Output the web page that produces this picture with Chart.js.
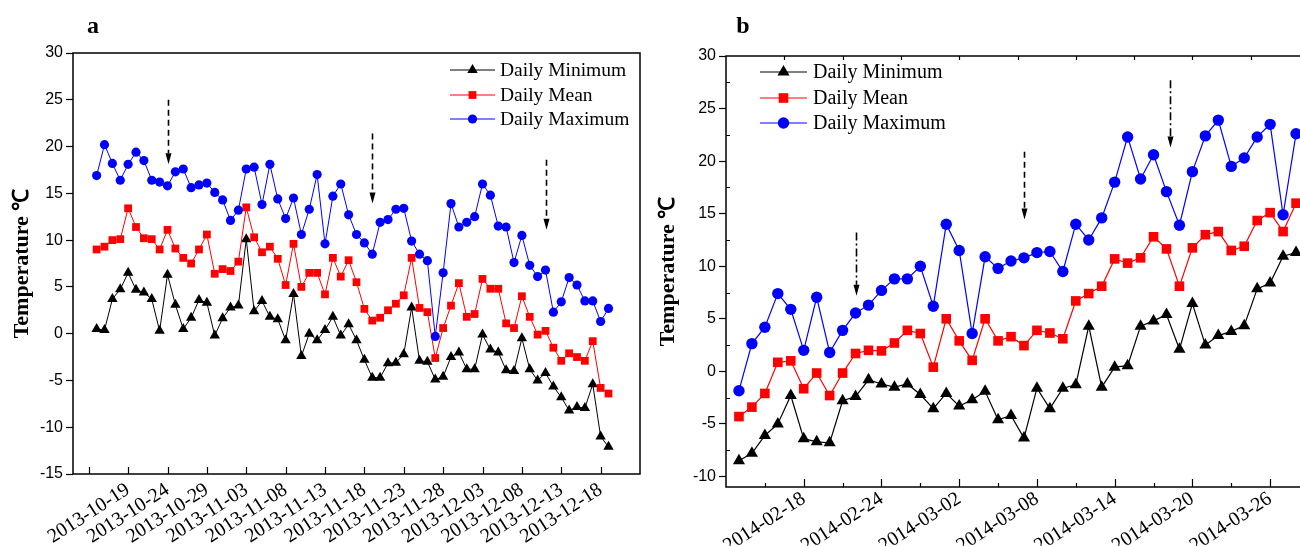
<!DOCTYPE html>
<html><head><meta charset="utf-8">
<script src="https://cdn.jsdelivr.net/npm/chart.js@4.4.1/dist/chart.umd.min.js"></script>
<style>
html,body{margin:0;padding:0;background:#fff;overflow:hidden;width:1300px;height:546px;}
#wrap{position:relative;width:1300px;height:546px;overflow:hidden;}
canvas{position:absolute;top:0;}
#ca{left:0;}
#cb{left:650px;}
</style></head><body>
<div id="wrap"><canvas id="ca" width="660" height="546"></canvas><canvas id="cb" width="680" height="546"></canvas></div>
<script>
// ---------------- Panel a data ----------------
const datesA = ["2013-10-15","2013-10-16","2013-10-17","2013-10-18","2013-10-19","2013-10-20","2013-10-21","2013-10-22","2013-10-23","2013-10-24","2013-10-25","2013-10-26","2013-10-27","2013-10-28","2013-10-29","2013-10-30","2013-10-31",
"2013-11-01","2013-11-02","2013-11-03","2013-11-04","2013-11-05","2013-11-06","2013-11-07","2013-11-08","2013-11-09","2013-11-10","2013-11-11","2013-11-12","2013-11-13","2013-11-14","2013-11-15","2013-11-16","2013-11-17","2013-11-18","2013-11-19","2013-11-20","2013-11-21","2013-11-22","2013-11-23","2013-11-24","2013-11-25","2013-11-26","2013-11-27","2013-11-28","2013-11-29","2013-11-30",
"2013-12-01","2013-12-02","2013-12-03","2013-12-04","2013-12-05","2013-12-06","2013-12-07","2013-12-08","2013-12-09","2013-12-10","2013-12-11","2013-12-12","2013-12-13","2013-12-14","2013-12-15","2013-12-16","2013-12-17","2013-12-18","2013-12-19"];
const minA = [0.5,0.4,3.7,4.75,6.5,4.7,4.4,3.7,0.3,6.3,3.1,0.5,1.7,3.6,3.3,-0.2,1.65,2.8,3.0,10.1,2.4,3.5,1.8,1.55,-0.7,4.25,-2.4,0.0,-0.7,0.4,1.8,-0.2,1.0,-0.7,-2.8,-4.7,-4.7,-3.15,-3.1,-2.2,2.8,-2.9,-3.0,-4.9,-4.6,-2.5,-2.0,-3.8,-3.8,-0.1,-1.7,-2.0,-3.9,-4.0,-0.5,-3.8,-5.0,-4.2,-5.65,-6.8,-8.2,-7.85,-7.95,-5.4,-11.0,-12.1];
const meanA = [9.0,9.3,10.0,10.1,13.4,11.4,10.2,10.1,9.0,11.1,9.1,8.1,7.5,9.0,10.6,6.4,6.9,6.7,7.7,13.5,10.3,8.7,9.3,8.0,5.2,9.6,5.0,6.5,6.5,4.2,8.1,6.1,7.85,5.5,2.65,1.4,1.7,2.5,3.2,4.1,8.1,2.75,2.3,-2.6,0.6,3.0,5.4,1.8,2.1,5.85,4.8,4.8,1.1,0.6,4.0,1.8,-0.1,0.3,-1.5,-2.9,-2.1,-2.5,-2.9,-0.8,-5.8,-6.4];
const maxA = [16.9,20.2,18.2,16.4,18.1,19.4,18.5,16.4,16.2,15.8,17.3,17.6,15.6,15.9,16.1,15.1,14.3,12.1,13.2,17.6,17.8,13.8,18.1,14.4,12.3,14.5,10.6,13.3,17.0,9.6,14.7,16.0,12.7,10.6,9.7,8.5,11.9,12.2,13.3,13.4,9.9,8.5,7.8,-0.3,6.5,13.9,11.4,11.9,12.5,16.0,14.8,11.5,11.4,7.6,10.5,7.3,6.1,6.8,2.3,3.4,6.0,5.2,3.5,3.5,1.3,2.7];
const tickLabelsA = ["2013-10-19","2013-10-24","2013-10-29","2013-11-03","2013-11-08","2013-11-13","2013-11-18","2013-11-23","2013-11-28","2013-12-03","2013-12-08","2013-12-13","2013-12-18"];
const unlabeledTicksA = ["2013-10-14"];
const xRangeA = ["2013-10-12","2013-12-23"];
const yTicksA = [-15,-10,-5,0,5,10,15,20,25,30];
const arrowsA = [
  {date:"2013-10-24", top:25.0, tip:18.1, style:"dash"},
  {date:"2013-11-19", top:21.4, tip:13.9, style:"dash"},
  {date:"2013-12-11", top:18.6, tip:11.1, style:"dash"}
];

// ---------------- Panel b data ----------------
const datesB = ["2014-02-13","2014-02-14","2014-02-15","2014-02-16","2014-02-17","2014-02-18","2014-02-19","2014-02-20","2014-02-21","2014-02-22","2014-02-23","2014-02-24","2014-02-25","2014-02-26","2014-02-27","2014-02-28",
"2014-03-01","2014-03-02","2014-03-03","2014-03-04","2014-03-05","2014-03-06","2014-03-07","2014-03-08","2014-03-09","2014-03-10","2014-03-11","2014-03-12","2014-03-13","2014-03-14","2014-03-15","2014-03-16","2014-03-17","2014-03-18","2014-03-19","2014-03-20","2014-03-21","2014-03-22","2014-03-23","2014-03-24","2014-03-25","2014-03-26","2014-03-27","2014-03-28"];
const minB = [-8.5,-7.8,-6.1,-5.0,-2.3,-6.4,-6.7,-6.8,-2.8,-2.4,-0.8,-1.2,-1.5,-1.2,-2.2,-3.55,-2.1,-3.3,-2.7,-1.9,-4.6,-4.2,-6.35,-1.6,-3.55,-1.6,-1.27,4.3,-1.5,0.4,0.54,4.3,4.8,5.4,2.1,6.45,2.5,3.4,3.8,4.35,7.85,8.4,10.95,11.3];
const meanB = [-4.3,-3.4,-2.1,0.86,1.0,-1.65,-0.16,-2.3,-0.16,1.7,2.0,1.95,2.7,3.9,3.6,0.4,5.0,2.9,1.05,5.0,2.9,3.3,2.45,3.9,3.65,3.1,6.7,7.4,8.1,10.7,10.3,10.8,12.8,11.65,8.1,11.75,13.0,13.3,11.5,11.9,14.35,15.1,13.3,16.0];
const maxB = [-1.84,2.64,4.2,7.4,5.9,2.0,7.05,1.8,3.9,5.55,6.3,7.7,8.8,8.8,10.0,6.2,14.0,11.5,3.6,10.9,9.8,10.5,10.8,11.3,11.4,9.5,14.0,12.5,14.6,18.0,22.3,18.3,20.6,17.1,13.9,19.0,22.4,23.9,19.5,20.3,22.3,23.5,14.9,22.6];
const tickLabelsB = ["2014-02-18","2014-02-24","2014-03-02","2014-03-08","2014-03-14","2014-03-20","2014-03-26"];
const minorTicksB = ["2014-02-15","2014-02-21","2014-02-27","2014-03-05","2014-03-11","2014-03-17","2014-03-23"];
const topTicksB = [-1.5,3,7.5,12,16.5,21,25.5,30,34.5];
const xRangeB = ["2014-02-12","2014-03-29"];
const yTicksB = [-10,-5,0,5,10,15,20,25,30];
const yMinorB = [-7.5,-2.5,2.5,7.5,12.5,17.5,22.5,27.5];
const arrowsB = [
  {date:"2014-02-22", top:13.2, tip:7.2, style:"dashdot"},
  {date:"2014-03-07", top:20.9, tip:14.45, style:"dash"},
  {date:"2014-03-18", shift:0.3, top:27.7, tip:21.3, style:"dashdot"}
];

const seriesNames = ["Daily Minimum","Daily Mean","Daily Maximum"];
const TITLE = "Temperature \u2103";

// ---------------- helpers ----------------
function dayNum(s, origin){
  const a = s.split('-').map(Number), o = origin.split('-').map(Number);
  return (Date.UTC(a[0],a[1]-1,a[2]) - Date.UTC(o[0],o[1]-1,o[2]))/864e5;
}

function build(p){
  const xs = p.dates.map(d => dayNum(d, p.origin));
  const pts = arr => arr.map((v,i)=>({x:xs[i], y:v}));
  const labelMap = {};
  p.tickLabels.forEach(t => { labelMap[dayNum(t,p.origin)] = t; });
  const majorVals = p.tickLabels.map(t=>dayNum(t,p.origin)).concat(p.unlabeled.map(t=>dayNum(t,p.origin))).sort((a,b)=>a-b);
  const minorVals = p.minorX.map(t=>dayNum(t,p.origin));
  const styles = [
    {color:'#000000', ps:'triangle', r:p.r.tri},
    {color:'#ff0000', ps:'rect', r:p.r.rect},
    {color:'#0000ff', ps:'circle', r:p.r.circ}
  ];
  const data = [p.min, p.mean, p.max];
  const datasets = [2,1,0].map(k => ({
    label: seriesNames[k], data: pts(data[k]),
    borderColor: styles[k].color, backgroundColor: styles[k].color,
    pointBackgroundColor: styles[k].color, pointBorderWidth:0,
    pointStyle: styles[k].ps, pointRadius: styles[k].r, pointHoverRadius: styles[k].r,
    borderWidth: p.lw, tension:0, fill:false
  }));

  const plugin = {
    id:'deco'+p.letter,
    afterDraw(chart){
      const {ctx, chartArea:a, scales:{x,y}} = chart;
      ctx.save();
      ctx.strokeStyle='#000'; ctx.lineWidth=1.5; ctx.setLineDash([]);
      ctx.strokeRect(a.left, a.top, a.right-a.left, a.bottom-a.top);
      ctx.lineWidth=1.2;
      ctx.beginPath();
      majorVals.forEach(v=>{ const px=Math.round(x.getPixelForValue(v))+0.5; ctx.moveTo(px,a.bottom); ctx.lineTo(px,a.bottom-p.majorLen); });
      minorVals.forEach(v=>{ const px=Math.round(x.getPixelForValue(v))+0.5; ctx.moveTo(px,a.bottom); ctx.lineTo(px,a.bottom-4); });
      p.yMinor.forEach(v=>{ const py=Math.round(y.getPixelForValue(v))+0.5; ctx.moveTo(a.left,py); ctx.lineTo(a.left+4,py); });
      p.topTicks.forEach(v=>{ const px=Math.round(x.getPixelForValue(v))+0.5; ctx.moveTo(px,a.top); ctx.lineTo(px,a.top+4); });
      ctx.stroke();
      p.arrows.forEach(ar=>{
        const px = Math.round(x.getPixelForValue(dayNum(ar.date,p.origin)+(ar.shift||0)))+0.5;
        const y0 = y.getPixelForValue(ar.top), y1 = y.getPixelForValue(ar.tip);
        const head = 11;
        ctx.strokeStyle='#000'; ctx.lineWidth=1.6;
        ctx.setLineDash(ar.style==='dash' ? [6,4] : [8,3,2,3]);
        ctx.beginPath(); ctx.moveTo(px,y0); ctx.lineTo(px,y1-head); ctx.stroke();
        ctx.setLineDash([]);
        ctx.fillStyle='#000';
        ctx.beginPath(); ctx.moveTo(px-3,y1-head); ctx.lineTo(px+3,y1-head); ctx.lineTo(px,y1); ctx.closePath(); ctx.fill();
      });
      const L = p.legend;
      ctx.font = p.legendFont; ctx.textBaseline='middle'; ctx.textAlign='left';
      [0,1,2].forEach((k,i)=>{
        const ry = L.rows[i];
        ctx.strokeStyle = styles[k].color; ctx.lineWidth = p.lw;
        ctx.beginPath(); ctx.moveTo(L.x0, ry); ctx.lineTo(L.x1, ry); ctx.stroke();
        ctx.fillStyle = styles[k].color;
        Chart.helpers.drawPoint(ctx, {pointStyle:styles[k].ps, radius:styles[k].r, rotation:0, borderWidth:0}, (L.x0+L.x1)/2, ry);
        ctx.fillStyle='#000';
        ctx.fillText(seriesNames[k], L.tx, ry+1);
      });
      ctx.font = 'bold 24px "Liberation Serif"'; ctx.textAlign='center'; ctx.textBaseline='alphabetic';
      ctx.fillText(p.letter, p.letterPos[0], p.letterPos[1]);
      ctx.restore();
    }
  };

  return new Chart(document.getElementById(p.canvas), {
    type:'line',
    data:{datasets},
    options:{
      responsive:false, animation:false, devicePixelRatio:1,
      layout:{padding:{left:0, top:p.layout.top, right:p.layout.right, bottom:0}},
      plugins:{legend:{display:false}, tooltip:{enabled:false}, title:{display:false}},
      scales:{
        x:{
          type:'linear', min:dayNum(p.xRange[0],p.origin), max:dayNum(p.xRange[1],p.origin),
          grid:{display:false}, border:{display:false},
          afterBuildTicks: s => { s.ticks = majorVals.map(v=>({value:v})); },
          afterFit: s => { s.height = p.layout.xH; s.paddingLeft=0; s.paddingRight=0; },
          ticks:{autoSkip:false, maxRotation:p.rot, minRotation:p.rot, padding:p.xPad, color:'#000',
            font:{family:'"Liberation Serif"', size:p.xFont},
            callback: v => labelMap[v] || ''}
        },
        y:{
          type:'linear', min:p.yRange[0], max:p.yRange[1],
          grid:{display:true, drawOnChartArea:false, drawTicks:true, tickLength:7, tickColor:'#000', tickWidth:1.2},
          border:{display:false},
          afterBuildTicks: s => { s.ticks = p.yTicks.map(v=>({value:v})); },
          afterFit: s => { s.width = p.layout.left; s.paddingTop=0; s.paddingBottom=0; },
          ticks:{color:'#000', padding:3, font:{family:'"Liberation Sans"', size:16}},
          title:{display:true, text:TITLE, color:'#000', padding:{top:p.titlePad, bottom:0},
            font:{family:'"Liberation Serif"', size:22, weight:'bold'}}
        }
      }
    },
    plugins:[plugin]
  });
}

build({
  canvas:'ca', letter:'a', letterPos:[93,33], origin:'2013-10-19',
  dates:datesA, min:minA, mean:meanA, max:maxA,
  tickLabels:tickLabelsA, unlabeled:unlabeledTicksA, minorX:[], yMinor:[], topTicks:[],
  xRange:xRangeA, yRange:[-15,30], yTicks:yTicksA, arrows:arrowsA,
  layout:{left:73, top:53, right:20, xH:72}, majorLen:7,
  legend:{x0:450, x1:495, tx:500, rows:[70,95,119]}, legendFont:'19.5px "Liberation Serif"',
  r:{tri:6, rect:5.5, circ:4.6}, lw:1, titlePad:9, rot:33, xPad:-4, xFont:20
});
build({
  canvas:'cb', letter:'b', letterPos:[93,33], origin:'2014-02-18',
  dates:datesB, min:minB, mean:meanB, max:maxB,
  tickLabels:tickLabelsB, unlabeled:[], minorX:minorTicksB, yMinor:yMinorB, topTicks:topTicksB,
  xRange:xRangeB, yRange:[-11,30], yTicks:yTicksB, arrows:arrowsB,
  layout:{left:76, top:56, right:21, xH:59}, majorLen:8,
  legend:{x0:110, x1:157, tx:163, rows:[72,98,123]}, legendFont:'20px "Liberation Serif"',
  r:{tri:7, rect:6.8, circ:5.7}, lw:1.2, titlePad:5, rot:33, xPad:-8, xFont:20
});
</script>
</body></html>
